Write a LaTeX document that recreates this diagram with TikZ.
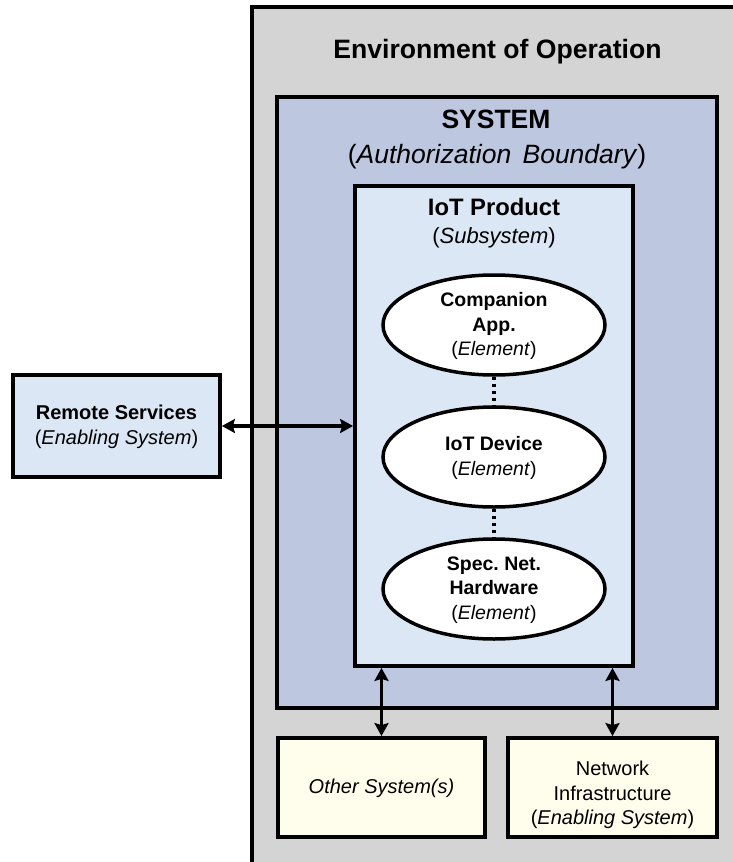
\documentclass[tikz,border=0pt]{standalone}
\usepackage{fontspec}
\setmainfont{Liberation Sans}
\usetikzlibrary{arrows.meta,shapes.geometric}
\frenchspacing
\definecolor{envgray}{HTML}{D4D4D4}
\definecolor{sysblue}{HTML}{BDC7E0}
\definecolor{prodblue}{HTML}{DCE7F5}
\definecolor{cream}{HTML}{FFFDEB}
\tikzset{
  box/.style={draw=black, line width=3.8pt, rectangle, inner sep=0pt},
  elem/.style={ellipse, draw=black, line width=3.5pt, fill=white,
    minimum width=222pt, minimum height=100pt, inner sep=0pt},
  elemtext/.style={align=center, inner sep=0pt,
    font=\fontsize{19.5}{24.5}\selectfont\bfseries},
  boxtext/.style={align=center, font=\fontsize{20}{24.5}\selectfont},
  link/.style={line width=3.8pt,
    {Stealth[length=13pt,width=14pt,inset=2pt]}-{Stealth[length=13pt,width=14pt,inset=2pt]}},
  dots/.style={line width=3.5pt, dash pattern=on 3.5pt off 3.5pt}
}
\begin{document}
\begin{tikzpicture}[x=1pt,y=-1pt]
\useasboundingbox (0,0) rectangle (733,862);

% environment of operation (runs off the right and bottom edges)
\begin{scope}
  \clip (0,0) rectangle (733,862);
  \node[box, fill=envgray, minimum width=528pt, minimum height=893pt] (env) at (516,453.5) {};
\end{scope}
\node[anchor=base, font=\fontsize{26.6}{30}\selectfont\bfseries] (envtitle) at (497.5,58) {Environment of Operation};

% system / authorization boundary
\node[box, fill=sysblue, minimum width=440pt, minimum height=611pt] (sys) at (497,402.5) {};
\node[anchor=base, font=\fontsize{26.5}{30}\selectfont\bfseries] (systitle) at (496,128) {SYSTEM};
\node[anchor=base, font=\fontsize{26.5}{30}\selectfont] (syssub) at (497,163)
  {(\textit{Authorization\hspace{4pt} Boundary})};

% IoT product subsystem
\node[box, fill=prodblue, minimum width=278pt, minimum height=480pt] (prod) at (494,426) {};
\node[anchor=base, font=\fontsize{23.8}{27}\selectfont\bfseries] (prodtitle) at (494,215) {IoT Product};
\node[anchor=base, font=\fontsize{22}{27}\selectfont] (prodsub) at (494,243) {(\textit{Subsystem})};

% elements
\node[elem] (comp) at (494,325) {};
\node[elem] (dev) at (494,457) {};
\node[elem] (hw) at (494,589) {};
\node[elemtext] at (494,326) {Companion\\App.\\{\mdseries(\textit{Element})}};
\node[elemtext] at (494,458) {IoT Device\\{\mdseries(\textit{Element})}};
\node[elemtext] at (494,590) {Spec. Net.\\Hardware\\{\mdseries(\textit{Element})}};
\draw[dots] (comp.south) -- (dev.north);
\draw[dots] (dev.south) -- (hw.north);

% remote services
\node[box, fill=prodblue, minimum width=207pt, minimum height=102pt] (remote) at (116.5,426) {};
\node[boxtext] at (116.5,427) {\textbf{Remote Services}\\(\textit{Enabling System})};

% other systems and network infrastructure
\node[box, fill=cream, minimum width=207pt, minimum height=99pt] (other) at (381.5,787.5) {};
\node[boxtext] at (381.5,788) {\textit{Other System(s)}};
\node[box, fill=cream, minimum width=209pt, minimum height=99pt] (net) at (612.5,787.5) {};
\node[boxtext] at (612.5,795) {Network\\Infrastructure\\(\textit{Enabling System})};

% interfaces
\draw[link] (remote.east) -- (remote.east -| prod.west);
\draw[link] (prod.south -| other.north) -- (other.north);
\draw[link] (prod.south -| net.north) -- (net.north);
\end{tikzpicture}
\end{document}
